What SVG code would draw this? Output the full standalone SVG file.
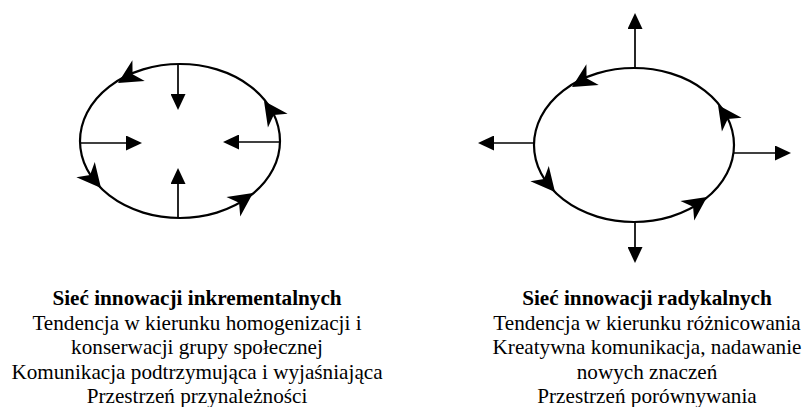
<svg xmlns="http://www.w3.org/2000/svg" xmlns:xlink="http://www.w3.org/1999/xlink" width="808" height="407" viewBox="0 0 808 407">
<style>
.ring{fill:none;stroke:#000;stroke-width:2.2}
.ln{fill:none;stroke:#000;stroke-width:1.7;marker-end:url(#ah)}
.hd{fill:#000}
text{font-family:"Liberation Serif","Times New Roman",serif;font-size:21.2px;fill:#000;text-anchor:middle}
.b{font-weight:bold}
</style>
<defs>
<marker id="ah" markerUnits="userSpaceOnUse" markerWidth="16" markerHeight="15" refX="12" refY="7.5" orient="auto" viewBox="0 0 16 15"><path d="M0,0 L16,7.5 L0,15 Z" fill="#000"/></marker>
<path id="sh" d="M0,0 L-24,-12 L-17,0 L-24,12 Z"/>
</defs>
<g id="left-network">
<ellipse class="ring" cx="180" cy="141" rx="100" ry="77"/>
<use xlink:href="#sh" class="hd" transform="translate(118,83) rotate(149)"/>
<use xlink:href="#sh" class="hd" transform="translate(264,101) rotate(235)"/>
<use xlink:href="#sh" class="hd" transform="translate(101,188) rotate(50)"/>
<use xlink:href="#sh" class="hd" transform="translate(253,193) rotate(-35)"/>
</g>
<g id="right-network">
<ellipse class="ring" cx="634" cy="145" rx="100" ry="77"/>
<use xlink:href="#sh" class="hd" transform="translate(572,87) rotate(149)"/>
<use xlink:href="#sh" class="hd" transform="translate(718,105) rotate(235)"/>
<use xlink:href="#sh" class="hd" transform="translate(555,192) rotate(50)"/>
<use xlink:href="#sh" class="hd" transform="translate(707,197) rotate(-35)"/>
</g>
<g id="connectors">
<path class="ln" d="M178,64 V106"/>
<path class="ln" d="M178,218 V172"/>
<path class="ln" d="M81,143 H138"/>
<path class="ln" d="M280,142 H227"/>
<path class="ln" d="M635,68 V17"/>
<path class="ln" d="M635,222 V259"/>
<path class="ln" d="M534,143 H482"/>
<path class="ln" d="M733,153 H787"/>
</g>
<g id="left-label">
<text x="197" y="305" class="b">Sieć innowacji inkrementalnych</text>
<text x="197" y="329.5">Tendencja w kierunku homogenizacji i</text>
<text x="197" y="354">konserwacji grupy społecznej</text>
<text x="197" y="378.5">Komunikacja podtrzymująca i wyjaśniająca</text>
<text x="197" y="403">Przestrzeń przynależności</text>
</g>
<g id="right-label">
<text x="647" y="305" class="b">Sieć innowacji radykalnych</text>
<text x="647" y="329.5">Tendencja w kierunku różnicowania</text>
<text x="647" y="354">Kreatywna komunikacja, nadawanie</text>
<text x="647" y="378.5">nowych znaczeń</text>
<text x="647" y="403">Przestrzeń porównywania</text>
</g>
</svg>
